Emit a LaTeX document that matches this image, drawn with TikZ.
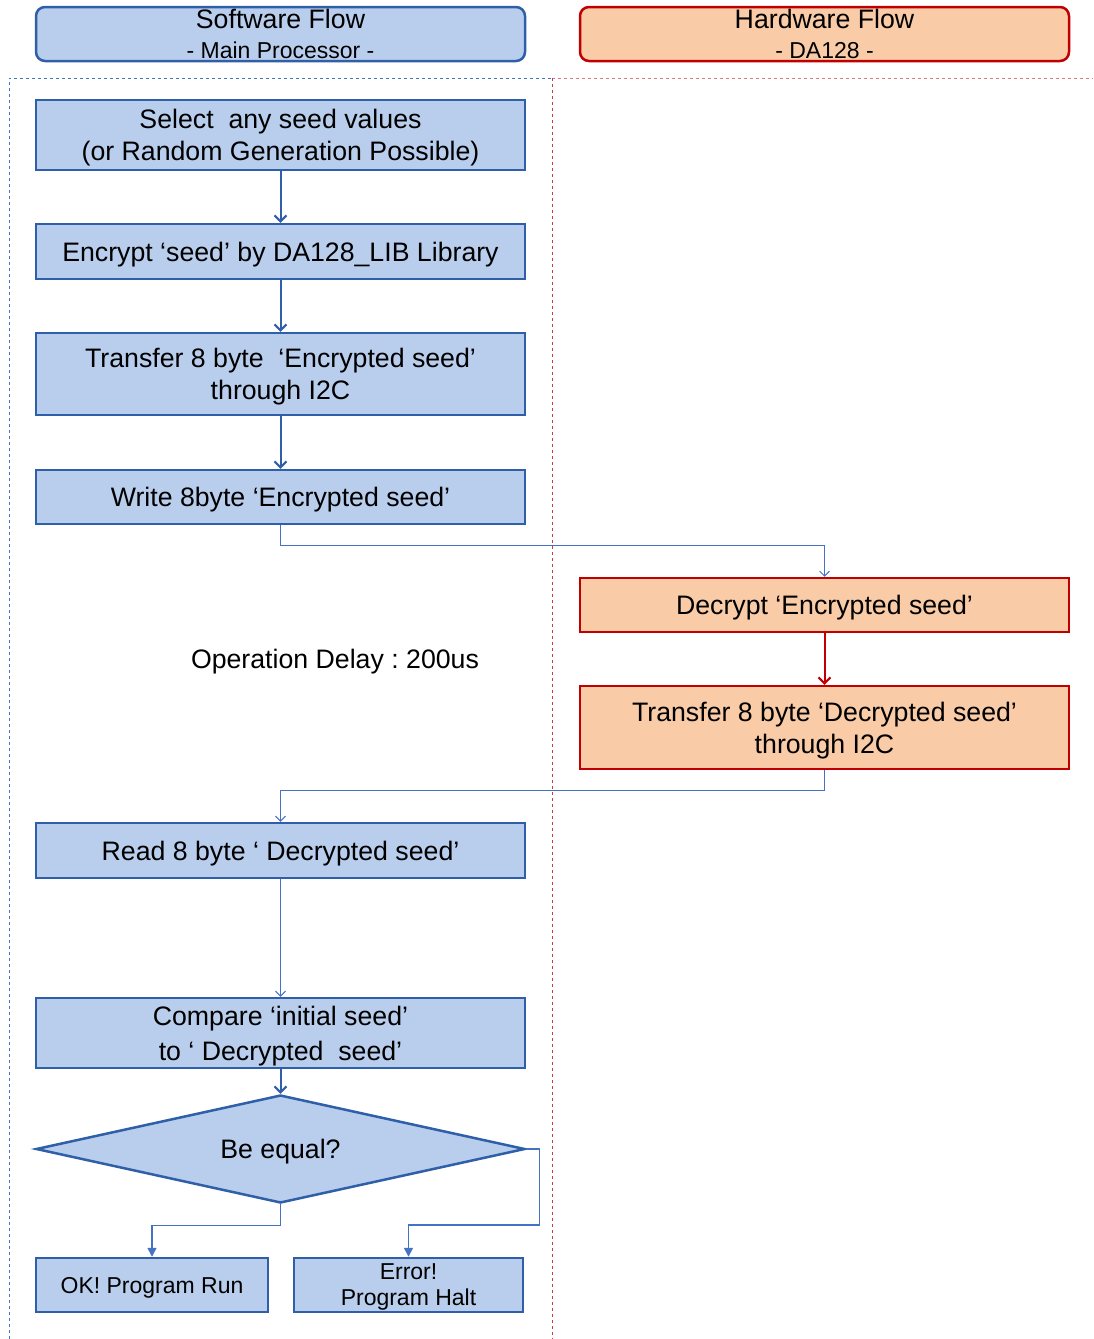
\documentclass[tikz,border=0pt]{standalone}
\usepackage{fontspec}
\setmainfont{Liberation Sans}
\frenchspacing
\usetikzlibrary{arrows.meta,shapes.geometric}
\definecolor{swfill}{RGB}{185,206,237}
\definecolor{swline}{RGB}{46,95,168}
\definecolor{swthin}{RGB}{68,114,196}
\definecolor{hwfill}{RGB}{249,203,167}
\definecolor{hwline}{RGB}{192,0,0}
\definecolor{lanered}{RGB}{200,60,70}
\newcommand{\bigtxt}{\fontsize{26.7}{32}\selectfont}
\newcommand{\smalltxt}{\fontsize{23}{26}\selectfont}
\tikzstyle{swblock} = [rectangle, draw=swline, fill=swfill, line width=2.5pt, minimum width=489pt, inner sep=0pt, text depth=0pt, align=center, font=\bigtxt]
\tikzstyle{hwblock} = [rectangle, draw=hwline, fill=hwfill, line width=2.5pt, minimum width=489pt, inner sep=0pt, text depth=0pt, align=center, font=\bigtxt]
\tikzstyle{endblock} = [rectangle, draw=swline, fill=swfill, line width=2.5pt, minimum height=54pt, inner sep=0pt, text depth=0pt, align=center, font=\smalltxt]
\tikzstyle{decision} = [diamond, aspect=4.53, draw=swline, fill=swfill, line width=2.5pt, minimum width=489pt, minimum height=108pt, inner sep=0pt, text depth=0pt, font=\bigtxt]
\tikzstyle{thickline} = [draw=swline, line width=2pt, -{Straight Barb[length=6pt,width=12pt]}]
\tikzstyle{thinline} = [draw=swthin, line width=1pt, -{Straight Barb[length=5pt,width=10pt]}]
\tikzstyle{endline} = [draw=swthin, line width=1.5pt, -{Triangle[length=9pt,width=9pt]}]

\begin{document}
\begin{tikzpicture}[x=1pt, y=-1pt]
   \useasboundingbox (0,0) rectangle (1093,1339);
   % lanes
   \draw[swthin, dashed, line width=1pt] (9,1339) -- (9,78) -- (552,78);
   \draw[lanered!70, dashed, line width=1pt] (552,78) -- (1093,78);
   \draw[lanered, dashed, line width=1pt] (552,78) -- (552,1339);

   % nodes
   \node[swblock, text depth=, rounded corners=9pt, minimum height=54pt] (swhead) at (280.5,34) {Software Flow\\[-2pt]{\fontsize{23}{28}\selectfont - Main Processor -}};
   \node[hwblock, text depth=, rounded corners=9pt, minimum height=54pt] (hwhead) at (824.5,34) {Hardware Flow\\[-2pt]{\fontsize{23}{28}\selectfont - DA128 -}};
   \node[swblock, minimum height=70pt] (seed) at (280.5,135) {Select\ \ any seed values\\(or Random Generation Possible)};
   \node[swblock, minimum height=55pt] (encrypt) at (280.5,251.5) {Encrypt ‘seed’ by DA128\_LIB Library};
   \node[swblock, minimum height=82pt] (sendenc) at (280.5,374) {Transfer 8 byte\ \ ‘Encrypted seed’\\through I2C};
   \node[swblock, minimum height=54pt] (write) at (280.5,497) {Write 8byte ‘Encrypted seed’};
   \node[hwblock, minimum height=54pt] (decrypt) at (824.5,605) {Decrypt ‘Encrypted seed’};
   \node[hwblock, minimum height=83pt] (senddec) at (824.5,727.5) {Transfer 8 byte ‘Decrypted seed’\\through I2C};
   \node[font=\bigtxt, text depth=0pt] (delay) at (335,659) {Operation Delay : 200us};
   \node[swblock, minimum height=55pt] (read) at (280.5,850.5) {Read 8 byte ‘ Decrypted seed’};
   \node[swblock, minimum height=70pt] (compare) at (280.5,1033) {Compare ‘initial seed’\\[3pt]to ‘ Decrypted\ \ seed’};
   \node[decision] (equal) at (280.5,1149) {Be equal?};
   \node[endblock, minimum width=232pt] (ok) at (152,1285) {OK! Program Run};
   \node[endblock, minimum width=229pt] (halt) at (408.5,1285) {Error!\\Program Halt};

   % edges
   \draw[thickline] (seed) -- (encrypt);
   \draw[thickline] (encrypt) -- (sendenc);
   \draw[thickline] (sendenc) -- (write);
   \draw[thinline] (write.south) -- ++(0,20) -| (decrypt.north);
   \draw[draw=hwline, line width=2pt, -{Straight Barb[length=6pt,width=12pt]}] (decrypt) -- (senddec);
   \draw[thinline] (senddec.south) -- ++(0,20) -| (read.north);
   \draw[thinline] (read) -- (compare);
   \draw[thickline] (compare) -- (equal);
   \draw[endline] (equal.south) -- ++(0,21) -| (ok.north);
   \draw[endline] (equal.east) -- ++(13,0) -- ++(0,76) -| (halt.north);
\end{tikzpicture}
\end{document}
